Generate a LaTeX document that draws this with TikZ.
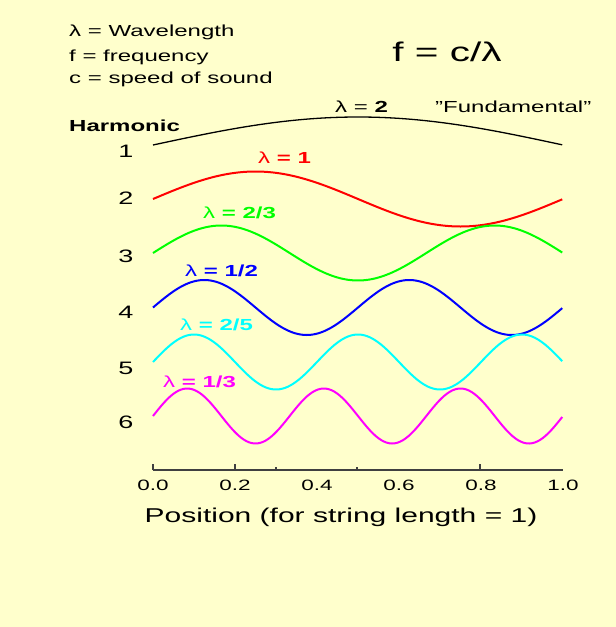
\documentclass[tikz,border=0pt]{standalone}
\usepackage{fontspec}
\setmainfont{Liberation Sans}[FakeStretch=1.5]
\usepackage{xcolor}
\usetikzlibrary{math}

\definecolor{paper}{HTML}{FFFFCC}
\definecolor{axisgray}{HTML}{404040}
\definecolor{mred}{HTML}{FF0000}
\definecolor{mgreen}{HTML}{00FF00}
\definecolor{mblue}{HTML}{0000FF}
\definecolor{mcyan}{HTML}{00FFFF}
\definecolor{mmagenta}{HTML}{FF00FF}

\begin{document}
\begin{tikzpicture}[x=1pt,y=-1pt,
  txt/.style={anchor=base west,inner sep=0pt,font=\fontsize{16}{18}\selectfont},
  num/.style={anchor=base,inner sep=0pt,font=\fontsize{18}{20}\selectfont},
  tick/.style={anchor=base,inner sep=0pt,font=\fontsize{15}{17}\selectfont},
  wave/.style={line width=2,domain=0:1,samples=150,smooth}]
\tikzmath{
\W=410;
\A=27.5;
}

\fill[color=paper] (0,0) rectangle (616,627);
\useasboundingbox (0,0) rectangle (616,627);

% legend
\node[txt] (wl) at (69,36) {λ = Wavelength};
\node[txt] (fr) at (69,61) {f = frequency};
\node[txt] (sp) at (69,83) {c = speed of sound};
\node[anchor=base,inner sep=0pt,font=\fontsize{27}{30}\selectfont] (eq) at (447,61) {f = c/λ};

\node[txt,font=\fontsize{16}{18}\selectfont\bfseries] (harm) at (69,131) {Harmonic};
\node[num] (h1) at (126,157) {1};
\node[num] (h2) at (126,204) {2};
\node[num] (h3) at (126,262) {3};
\node[num] (h4) at (126,318) {4};
\node[num] (h5) at (126,374) {5};
\node[num] (h6) at (126,428) {6};

% the six modes of the string
\draw[wave,line width=1.3,black] plot ({153+\W*\x},{145-28*sin(180*\x)});
\draw[wave,mred] plot ({153+\W*\x},{199-\A*sin(2*180*\x)});
\draw[wave,mgreen] plot ({153+\W*\x},{253-\A*sin(3*180*\x)});
\draw[wave,mblue] plot ({153+\W*\x},{307.5-\A*sin(4*180*\x)});
\draw[wave,mcyan] plot ({153+\W*\x},{362-\A*sin(5*180*\x)});
\draw[wave,mmagenta] plot ({153+\W*\x},{416-\A*sin(6*180*\x)});

\node[txt] (l1) at (335,112) {λ = \textbf{2}};
\node[txt] (fund) at (435,112) {\symbol{34}Fundamental\symbol{34}};
\node[txt,mred] (l2) at (258,163) {λ \textbf{= 1}};
\node[txt,mgreen] (l3) at (203,218) {λ \textbf{= 2/3}};
\node[txt,mblue] (l4) at (185,276) {λ \textbf{= 1/2}};
\node[txt,mcyan] (l5) at (180,330) {λ \textbf{= 2/5}};
\node[txt,mmagenta] (l6) at (163,387) {λ \textbf{= 1/3}};

% axis
\draw[line width=1.2,color=axisgray] (153,470) -- (563,470);
\draw[line width=1.2,color=axisgray] (153,470) -- +(0,-6);
\draw[line width=1.2,color=axisgray] (235,470) -- +(0,-6);
\draw[line width=1.2,color=axisgray] (276,470) -- +(0,-3);
\draw[line width=1.2,color=axisgray] (357,470) -- +(0,-3);
\draw[line width=1.2,color=axisgray] (480,470) -- +(0,-6);

\node[tick] (t0) at (153,490) {0.0};
\node[tick] (t2) at (235,490) {0.2};
\node[tick] (t4) at (317,490) {0.4};
\node[tick] (t6) at (399,490) {0.6};
\node[tick] (t8) at (481,490) {0.8};
\node[tick] (t10) at (563,490) {1.0};
\node[anchor=base,inner sep=0pt,font=\fontsize{20}{22}\selectfont] (pos) at (341,522) {Position (for string length = 1)};
\end{tikzpicture}
\end{document}
